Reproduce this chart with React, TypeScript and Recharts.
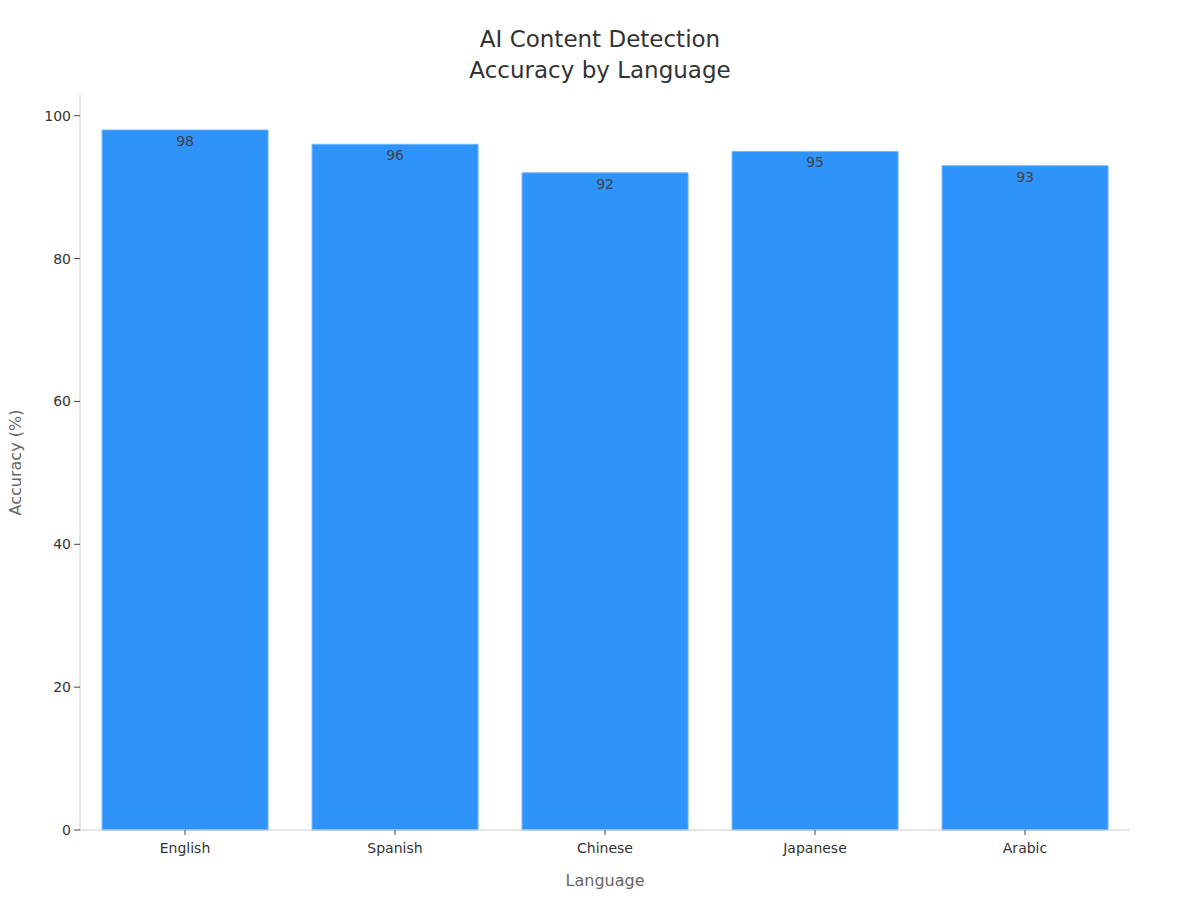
import { BarChart, Bar, XAxis, YAxis, LabelList } from 'recharts'

const LANGUAGES = ['English', 'Spanish', 'Chinese', 'Japanese', 'Arabic']
const ACCURACY = [98, 96, 92, 95, 93]
const Y_TICKS = [0, 20, 40, 60, 80, 100]

const data = LANGUAGES.map((language, i) => ({ language, accuracy: ACCURACY[i] }))

const FONT = '"DejaVu Sans", sans-serif'

export default function App() {
  return (
    <div style={{ position: 'absolute', left: 0, top: 0, width: 1200, height: 900, background: '#fff', fontFamily: FONT }}>
      <div
        style={{
          position: 'absolute',
          top: 24,
          left: 0,
          width: 1200,
          textAlign: 'center',
          fontSize: 23,
          lineHeight: '31px',
          color: '#333',
        }}
      >
        AI Content Detection
        <br />
        Accuracy by Language
      </div>
      <BarChart
        width={1200}
        height={900}
        data={data}
        margin={{ top: 95, right: 70, bottom: 0, left: 0 }}
        barCategoryGap="10.5%"
      >
        <XAxis
          dataKey="language"
          stroke="#ccc"
          tickLine={{ stroke: '#444' }}
          tickSize={5}
          tickMargin={8}
          tick={{ fill: '#333', fontSize: 14, fontFamily: FONT }}
          height={70}
          label={{ value: 'Language', position: 'insideBottom', offset: 14, fill: '#666', fontSize: 16, fontFamily: FONT }}
        />
        <YAxis
          domain={[0, 102.9]}
          ticks={Y_TICKS}
          stroke="#ccc"
          tickLine={{ stroke: '#444' }}
          tickSize={6}
          tickMargin={3}
          tick={{ fill: '#333', fontSize: 14, fontFamily: FONT }}
          width={80}
          label={{ value: 'Accuracy (%)', angle: -90, position: 'insideLeft', offset: 15, fill: '#666', fontSize: 16, fontFamily: FONT, style: { textAnchor: 'middle' } }}
        />
        <Bar dataKey="accuracy" fill="#2E93FA" stroke="#6fb6fb" strokeWidth={1} isAnimationActive={false}>
          <LabelList
            dataKey="accuracy"
            position="insideTop"
            offset={6}
            fill="#444"
            fontSize={14}
            fontFamily={FONT}
          />
        </Bar>
      </BarChart>
    </div>
  )
}
